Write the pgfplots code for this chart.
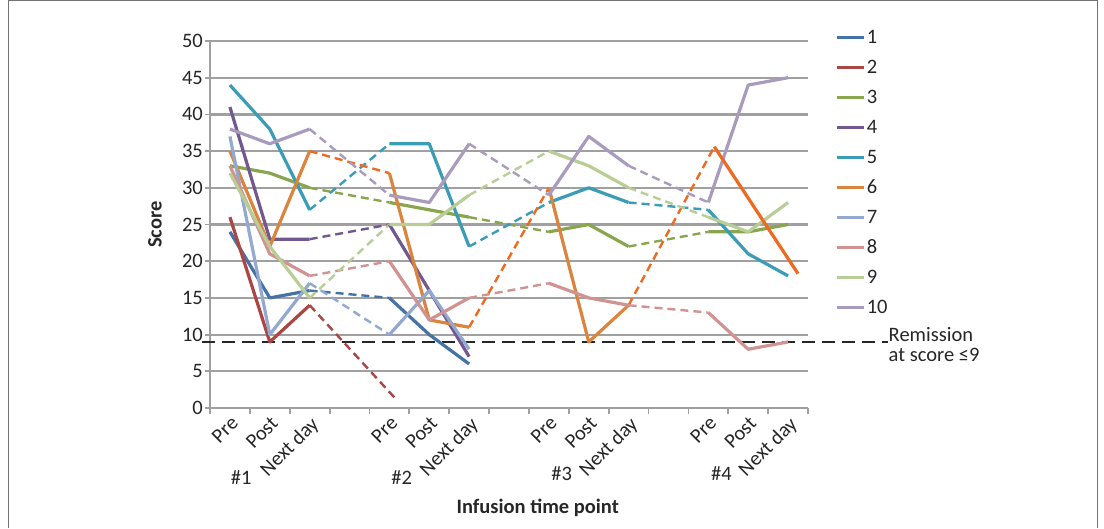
\documentclass[border=0pt]{standalone}
\usepackage{pgfplots}
\pgfplotsset{compat=1.18}
\usepackage{fontspec}
\setmainfont{Carlito}
\definecolor{c1}{HTML}{4572A7}
\definecolor{c2}{HTML}{AA4643}
\definecolor{c3}{HTML}{89A54E}
\definecolor{c4}{HTML}{71588F}
\definecolor{c5}{HTML}{3A9DB5}
\definecolor{c6}{HTML}{DB843D}
\definecolor{c6b}{HTML}{EE6A1F}
\definecolor{c7}{HTML}{93A9CF}
\definecolor{c8}{HTML}{D19392}
\definecolor{c9}{HTML}{B9CD96}
\definecolor{c10}{HTML}{A99BBD}
\definecolor{gridc}{HTML}{A0A0A0}
\definecolor{txt}{HTML}{262626}
\begin{document}%
\fontsize{20.5}{24}\selectfont%
\begin{tikzpicture}
\useasboundingbox (0pt,0pt) rectangle (1104pt,528pt);
\draw[color=black!55, line width=1pt] (8pt,0pt) -- (8pt,527.5pt) -- (1097pt,527.5pt) -- (1097pt,0pt);
\begin{axis}[
  at={(210pt,120pt)}, anchor=south west, scale only axis,
  width=598pt, height=367pt,
  xmin=-0.5, xmax=14.5, ymin=0, ymax=50,
  clip=false,
  unbounded coords=jump,
  axis x line*=bottom, axis y line*=left,
  axis line style={gridc, line width=2.2pt, -},
  ytick={0,5,...,50},
  ymajorgrids, grid style={gridc, line width=2.2pt},
  tick align=outside,
  major tick length=5pt, minor tick length=6pt,
  major tick style={gridc, line width=1.8pt},
  minor tick style={gridc, line width=1.8pt},
  major x tick style={draw=none},
  xtick={0,...,14},
  minor xtick={-0.5,0.5,...,14.5},
  xticklabels={Pre,Post,Next day,,Pre,Post,Next day,,Pre,Post,Next day,,Pre,Post,Next day},
  xticklabel style={rotate=45, anchor=north east, inner sep=1.5pt, text=txt},
  yticklabel style={text=txt, inner sep=2pt},
  /pgf/number format/assume math mode=true,
  xlabel={\textbf{Infusion time point}},
  ylabel={\textbf{Score}},
  xlabel style={at={(axis description cs:0.548,-0.272)}, anchor=center, text=txt},
  ylabel style={at={(axis description cs:-0.092,0.5)}, anchor=center, text=txt},
  legend style={at={(axis description cs:1.045,1.035)}, anchor=north west,
    draw=none, fill=none, inner sep=0pt, row sep=11pt, text=txt,
    nodes={text height=14pt, text depth=2pt, inner sep=1.5pt}},
  legend cell align=left,
  legend image code/.code={\draw[#1] (0pt,0pt) -- (27pt,0pt);},
  every axis plot/.append style={line join=round},
]
% remission threshold
\addplot[forget plot, txt, line width=2.4pt, dash pattern=on 13pt off 7pt]
  coordinates {(-0.7,9) (16.5,9)};
% dashed connectors between infusions
\pgfplotsset{dashseg/.style={forget plot, line width=2.4pt, dash pattern=on 8pt off 5pt}}
\addplot[dashseg, c1] coordinates {(2,16)(4,15)};
\addplot[dashseg, c2] coordinates {(2,14)(4.2,1)};
\addplot[dashseg, c3] coordinates {(2,30)(4,28) (5,nan) (6,26)(8,24) (9,nan) (10,22)(12,24)};
\addplot[dashseg, c4] coordinates {(2,23)(4,25)};
\addplot[dashseg, c5] coordinates {(2,27)(4,36) (5,nan) (6,22)(8,28) (9,nan) (10,28)(12,27)};
\addplot[dashseg, c6b] coordinates {(2,35)(4,32) (5,nan) (6,11)(8,30) (9,nan) (10,14)(12.15,35.6)};
\addplot[dashseg, c7] coordinates {(2,17)(4,10)};
\addplot[dashseg, c8] coordinates {(2,18)(4,20) (5,nan) (6,15)(8,17) (9,nan) (10,14)(12,13)};
\addplot[dashseg, c9] coordinates {(2,15)(4,25) (5,nan) (6,29)(8,35) (9,nan) (10,30)(12,26)};
\addplot[dashseg, c10] coordinates {(2,38)(4,29) (5,nan) (6,36)(8,29) (9,nan) (10,33)(12,28)};
% solid series
\pgfplotsset{solidseg/.style={line width=3.2pt}}
\addplot[solidseg, c1] coordinates {(0,24)(1,15)(2,16) (3,nan) (4,15)(5,10)(6,6)};
\addlegendentry{1}
\addplot[solidseg, c2] coordinates {(0,26)(1,9)(2,14)};
\addlegendentry{2}
\addplot[solidseg, c3] coordinates {(0,33)(1,32)(2,30) (3,nan) (4,28)(5,27)(6,26) (7,nan) (8,24)(9,25)(10,22) (11,nan) (12,24)(13,24)(14,25)};
\addlegendentry{3}
\addplot[solidseg, c4] coordinates {(0,41)(1,23)(2,23) (3,nan) (4,25)(5,16)(6,7)};
\addlegendentry{4}
\addplot[solidseg, c5] coordinates {(0,44)(1,38)(2,27) (3,nan) (4,36)(5,36)(6,22) (7,nan) (8,28)(9,30)(10,28) (11,nan) (12,27)(13,21)(14,18)};
\addlegendentry{5}
\addplot[solidseg, c6] coordinates {(0,35)(1,22)(2,35) (3,nan) (4,32)(5,12)(6,11) (7,nan) (8,30)(9,9)(10,14)};
\addlegendentry{6}
\addplot[solidseg, c7] coordinates {(0,37)(1,10)(2,17) (3,nan) (4,10)(5,16)(6,8)};
\addlegendentry{7}
\addplot[solidseg, c8] coordinates {(0,33)(1,21)(2,18) (3,nan) (4,20)(5,12)(6,15) (7,nan) (8,17)(9,15)(10,14) (11,nan) (12,13)(13,8)(14,9)};
\addlegendentry{8}
\addplot[solidseg, c9] coordinates {(0,32)(1,22)(2,15) (3,nan) (4,25)(5,25)(6,29) (7,nan) (8,35)(9,33)(10,30) (11,nan) (12,26)(13,24)(14,28)};
\addlegendentry{9}
\addplot[solidseg, c10] coordinates {(0,38)(1,36)(2,38) (3,nan) (4,29)(5,28)(6,36) (7,nan) (8,29)(9,37)(10,33) (11,nan) (12,28)(13,44)(14,45)};
\addlegendentry{10}
\addplot[forget plot, solidseg, c6b] coordinates {(12.15,35.6)(14.25,18.3)};
% infusion group labels
\node[text=txt] at (axis cs:0.28,-9.5) {\#1};
\node[text=txt] at (axis cs:4.31,-9.5) {\#2};
\node[text=txt] at (axis cs:8.32,-8.9) {\#3};
\node[text=txt] at (axis cs:12.33,-8.9) {\#4};
\node[text=txt, anchor=west, align=left, inner sep=0pt, font=\fontsize{20.5}{20}\selectfont] at (axis cs:16.52,8.7) {Remission\\at score ≤9};
\end{axis}
\end{tikzpicture}%
\end{document}
